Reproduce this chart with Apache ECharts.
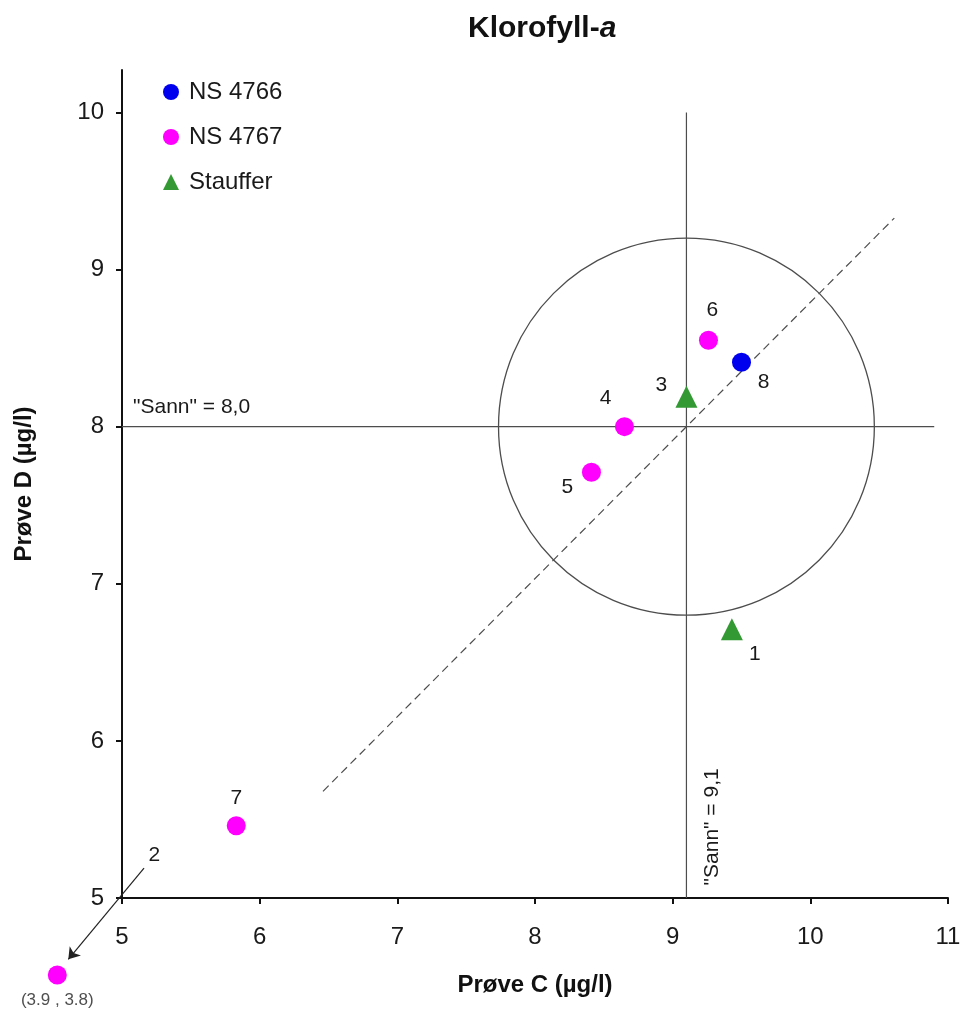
<!DOCTYPE html>
<html>
<head>
<meta charset="utf-8">
<script src="https://cdn.jsdelivr.net/npm/echarts@6/dist/echarts.min.js"></script>
<style>
html,body{margin:0;padding:0;background:#fff;}
#chart{width:965px;height:1014px;}
</style>
</head>
<body>
<div id="chart"></div>
<script>
// ---- data ----
var xTicks = [5, 6, 7, 8, 9, 10, 11];
var yTicks = [5, 6, 7, 8, 9, 10];
var trueX = 9.1;            // "Sann" Prøve C
var trueY = 8.0;            // "Sann" Prøve D
var limitFrac = 0.15;       // acceptance ellipse half-width as fraction of true value

var ns4766Ids = ['8'];
var ns4766X = [9.50];
var ns4766Y = [8.41];

var ns4767Ids = ['4', '5', '6', '7'];
var ns4767X = [8.65, 8.41, 9.26, 5.83];
var ns4767Y = [8.00, 7.71, 8.55, 5.46];

var staufferIds = ['1', '3'];
var staufferX = [9.43, 9.10];
var staufferY = [6.71, 8.19];

// off-scale result (lab 2): true value and where it is drawn outside the axes
var offId = '2';
var offTrue = [3.9, 3.8];
var offDrawn = [4.53, 4.51];
var offArrowFrom = [5.16, 5.19];
var offArrowTo = [4.61, 4.61];

// guide lines
var hLineX = [5, 10.9];
var vLineY = [5, 10];
var diagX = [6.46, 10.61];

// ---- styles / layout ----
var labelOffsets = {
  '1': [23, 25], '3': [-25, -12], '4': [-19, -28], '5': [-24, 15],
  '6': [4, -30], '7': [0, -28], '8': [22, 20], '2': [97, -120]
};
var FONT = 'Liberation Sans, Arial, Helvetica, sans-serif';
var TXT = '#1a1a1a';

function pts(ids, xs, ys) {
  return ids.map(function (id, i) {
    return {
      value: [xs[i], ys[i]],
      name: id,
      label: { offset: labelOffsets[id] }
    };
  });
}

var pointLabel = {
  show: true, position: 'inside', formatter: '{b}',
  color: TXT, fontSize: 21, fontFamily: FONT, align: 'center', verticalAlign: 'middle'
};

var ns4767Data = pts(ns4767Ids, ns4767X, ns4767Y);
ns4767Data.push({ value: offDrawn, name: offId, label: { offset: labelOffsets[offId] } });

var ratio = trueY / trueX;

var chart = echarts.init(document.getElementById('chart'), null, { renderer: 'canvas' });
var option = {
  animation: false,
  backgroundColor: '#fff',
  title: {
    text: 'Klorofyll-{i|a}',
    left: 463, top: 9,
    textStyle: {
      fontSize: 30, fontWeight: 'bold', color: '#111', fontFamily: FONT,
      rich: { i: { fontSize: 30, fontWeight: 'bold', fontStyle: 'italic', color: '#111', fontFamily: FONT } }
    }
  },
  legend: {
    orient: 'vertical', left: 163, top: 80, padding: 0,
    itemWidth: 16, itemHeight: 16, itemGap: 21,
    textStyle: { fontSize: 24, color: TXT, fontFamily: FONT, padding: [0, 0, 0, 5] },
    data: ['NS 4766', 'NS 4767', 'Stauffer']
  },
  grid: { left: 122, right: 17, top: 70, bottom: 116, containLabel: false },
  xAxis: {
    type: 'value', min: 5, max: 11, interval: 1,
    name: 'Prøve C (µg/l)', nameLocation: 'middle', nameGap: 75,
    nameTextStyle: { fontSize: 24, fontWeight: 'bold', color: '#111', fontFamily: FONT },
    axisLine: { lineStyle: { color: '#111', width: 2 } },
    axisTick: { show: true, inside: false, length: 6, lineStyle: { color: '#111', width: 2 } },
    axisLabel: { fontSize: 24, color: TXT, fontFamily: FONT, margin: 27 },
    splitLine: { show: false }
  },
  yAxis: {
    type: 'value', min: 5, max: 10.27,
    name: 'Prøve D (µg/l)', nameLocation: 'middle', nameGap: 86, nameRotate: 90,
    nameTextStyle: { fontSize: 24, fontWeight: 'bold', color: '#111', fontFamily: FONT },
    axisLine: { lineStyle: { color: '#111', width: 2 } },
    axisTick: { show: true, inside: false, length: 6, customValues: yTicks, lineStyle: { color: '#111', width: 2 } },
    axisLabel: { fontSize: 24, color: TXT, fontFamily: FONT, margin: 18, customValues: yTicks },
    splitLine: { show: false }
  },
  series: [
    {
      type: 'custom', name: 'ellipse', silent: true, z: 1,
      data: [[trueX, trueY]],
      renderItem: function (params, api) {
        var c = api.coord([api.value(0), api.value(1)]);
        var s = api.size([trueX * limitFrac, trueY * limitFrac]);
        return {
          type: 'ellipse',
          shape: { cx: c[0], cy: c[1], rx: s[0], ry: s[1] },
          style: { fill: 'none', stroke: '#4d4d4d', lineWidth: 1.3 }
        };
      }
    },
    {
      type: 'line', name: 'hline', silent: true, symbol: 'none', z: 1,
      data: [[hLineX[0], trueY], [hLineX[1], trueY]],
      lineStyle: { color: '#4d4d4d', width: 1.2 }
    },
    {
      type: 'line', name: 'vline', silent: true, symbol: 'none', z: 1,
      data: [[trueX, vLineY[0]], [trueX, vLineY[1]]],
      lineStyle: { color: '#4d4d4d', width: 1.2 }
    },
    {
      type: 'line', name: 'diag', silent: true, symbol: 'none', z: 1,
      data: [[diagX[0], diagX[0] * ratio], [diagX[1], diagX[1] * ratio]],
      lineStyle: { color: '#4d4d4d', width: 1.2, type: [8, 5] }
    },
    {
      type: 'lines', coordinateSystem: 'cartesian2d', silent: true, clip: false, z: 2,
      symbol: ['none', 'arrow'], symbolSize: [0, 11],
      data: [{ coords: [offArrowFrom, offArrowTo] }],
      lineStyle: { color: '#222', width: 1.2, opacity: 1 }
    },
    {
      type: 'scatter', name: 'NS 4766', symbol: 'circle', symbolSize: 19, z: 5,
      itemStyle: { color: '#0000EE', opacity: 1 },
      label: pointLabel,
      data: pts(ns4766Ids, ns4766X, ns4766Y)
    },
    {
      type: 'scatter', name: 'NS 4767', symbol: 'circle', symbolSize: 19, z: 5, clip: false,
      itemStyle: { color: '#FF00FF', opacity: 1 },
      label: pointLabel,
      data: ns4767Data
    },
    {
      type: 'scatter', name: 'Stauffer', symbol: 'triangle', symbolSize: 22, z: 5,
      itemStyle: { color: '#339933', opacity: 1 },
      label: pointLabel,
      data: pts(staufferIds, staufferX, staufferY)
    },
    {
      type: 'scatter', name: 'offnote', symbolSize: 0, clip: false, silent: true, z: 5,
      label: {
        show: true, position: 'inside', offset: [0, 25],
        formatter: function () { return '(' + offTrue[0].toFixed(1) + ' , ' + offTrue[1].toFixed(1) + ')'; },
        color: '#222', fontSize: 17, fontFamily: FONT
      },
      data: [offDrawn]
    }
  ],
  graphic: []
};
chart.setOption(option);

// "Sann" annotations, anchored to data coordinates
function addNotes() {
  var pH = chart.convertToPixel({ gridIndex: 0 }, [5.08, trueY]);
  var pV = chart.convertToPixel({ gridIndex: 0 }, [trueX, 5.08]);
  chart.setOption({
    graphic: [
      {
        type: 'text', left: pH[0], top: pH[1] - 30,
        style: { text: '"Sann" = 8,0', fontSize: 21, fill: TXT, fontFamily: FONT }
      },
      {
        type: 'text', x: pV[0] + 26, y: pV[1], rotation: Math.PI / 2,
        style: { text: '"Sann" = 9,1', fontSize: 21, fill: TXT, fontFamily: FONT, align: 'left', verticalAlign: 'middle' }
      }
    ]
  });
}
addNotes();
</script>
</body>
</html>
